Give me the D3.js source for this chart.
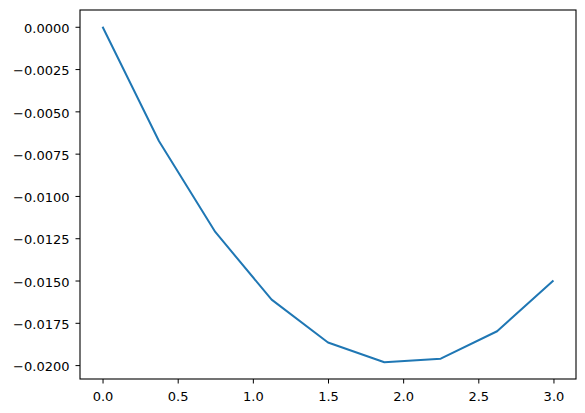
<!DOCTYPE html>
<html><head><meta charset="utf-8">
<script src="https://cdn.jsdelivr.net/npm/d3@7"></script>
<style>body{margin:0;background:#fff}svg{display:block}</style>
</head><body>
<svg id="c" width="585" height="413"></svg>
<script>
const xValues = [0, 0.375, 0.75, 1.125, 1.5, 1.875, 2.25, 2.625, 3.0];
const yValues = [0, -0.00675, -0.01213, -0.01613, -0.01866, -0.01983, -0.01962, -0.01800, -0.01500];
const xTicks = [0, 0.5, 1, 1.5, 2, 2.5, 3];
const yTicks = [0, -0.0025, -0.005, -0.0075, -0.01, -0.0125, -0.015, -0.0175, -0.02];

const svg = d3.select("#c");
const L = 80, R = 576, T = 10, B = 379;
const xmin = d3.min(xValues), xmax = d3.max(xValues);
const ymin = d3.min(yValues), ymax = d3.max(yValues);
const xm = (xmax - xmin) * 0.05, ym = (ymax - ymin) * 0.05;
const x = d3.scaleLinear().domain([xmin - xm, xmax + xm]).range([L, R]);
const y = d3.scaleLinear().domain([ymin - ym, ymax + ym]).range([B, T]);

const fmtY = v => (v < 0 ? "\u2212" : "") + Math.abs(v).toFixed(4);
const fmtX = v => v.toFixed(1);

const xAxis = svg.append("g").attr("transform", `translate(0,${B})`)
  .call(d3.axisBottom(x).tickValues(xTicks).tickFormat(fmtX).tickSize(4.5).tickPadding(8));
const yAxis = svg.append("g").attr("transform", `translate(${L},0)`)
  .call(d3.axisLeft(y).tickValues(yTicks).tickFormat(fmtY).tickSize(4.5).tickPadding(6));
[xAxis, yAxis].forEach(a => {
  a.select(".domain").remove();
  a.selectAll("line").attr("stroke", "#000").attr("stroke-width", 1);
  a.selectAll("text").attr("fill", "#000").style("font-family", "DejaVu Sans").style("font-size", "13px");
});
yAxis.selectAll("text").attr("dy", "0.44em");

svg.append("path")
  .datum(xValues.map((d, i) => [d, yValues[i]]))
  .attr("fill", "none").attr("stroke", "#1f77b4").attr("stroke-width", 2)
  .attr("stroke-linejoin", "round").attr("stroke-linecap", "butt")
  .attr("d", d3.line().x(d => x(d[0])).y(d => y(d[1])));

svg.append("rect").attr("x", L).attr("y", T).attr("width", R - L).attr("height", B - T)
  .attr("fill", "none").attr("stroke", "#000").attr("stroke-width", 1.1);
</script>
</body></html>
